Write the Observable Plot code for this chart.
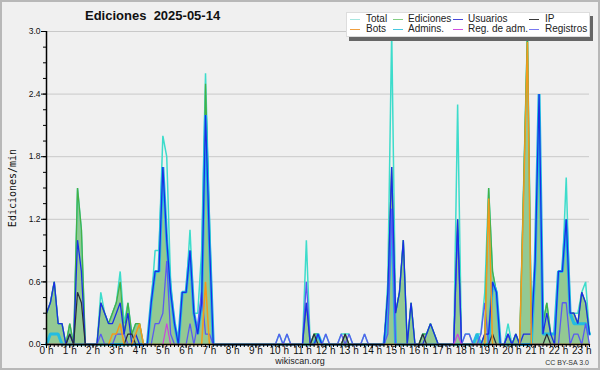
<!DOCTYPE html>
<html><head><meta charset="utf-8">
<script src="https://cdn.jsdelivr.net/npm/d3@7"></script>
<script src="https://cdn.jsdelivr.net/npm/@observablehq/plot@0.6"></script>
<style>
body{margin:0;background:#f0f0f0;}
#wrap{position:relative;width:600px;height:370px;overflow:hidden;background:#f0f0f0;font-family:"Liberation Sans",Arial,sans-serif;color:#111;}
#wrap svg{position:absolute;left:0;top:0;}
.ov{position:absolute;white-space:nowrap;}
#border{position:absolute;left:0;top:0;width:600px;height:370px;box-sizing:border-box;border:2px solid #b8b8b8;pointer-events:none;}
#legend{position:absolute;left:346px;top:12px;width:244px;height:25px;background:#fff;box-shadow:3px 4px 0 #666;border:1px solid #ddd;box-sizing:border-box;}
.lg-line{position:absolute;height:0;border-top:1px solid;width:10px;}
.lg-text{position:absolute;font-size:10px;line-height:10px;color:#222;}
</style></head><body>
<div id="wrap"></div>
<script>
// 10-minute intervals, 0:00 .. 23:20 (index 0..140), edits per minute
const total = [
0.3,0.4,0.6,0.2,0.2,0,0.2,0,1.5,1.1,
0,0,0,0,0.5,0.3,0.2,0.3,0.4,0.7,
0.2,0.4,0.1,0.2,0.2,0,0,0.4,0.9,0.9,
2.0,1.8,0.6,0.2,0,0.5,0.5,1.1,0.3,0.3,
0.9,2.6,1.2,0,0,0,0,0,0,0,
0,0,0,0,0,0,0,0,0,0,
0.1,0,0.1,0,0,0,0,1.0,0,0.1,
0.1,0,0.1,0,0,0,0.1,0.1,0.1,0,
0,0,0.1,0,0,0,0,0,0.6,3.0,
0.3,0.5,1.0,0,0.4,0,0,0.1,0.1,0.2,
0.1,0,0,0,0,0,2.3,0,0.1,0.1,
0,0.1,0.1,0.5,1.5,0.7,0.5,0,0,0.2,
0,0.1,0,1.5,3.0,0.2,0.8,2.4,0.2,0.4,
0.1,0.1,0.7,0.7,1.6,0.3,0.3,0.3,0.5,0.6,0.1];
const ediciones = [
0.3,0.4,0.6,0.2,0.2,0,0.2,0,1.5,1.1,
0,0,0,0,0.4,0.3,0.2,0.3,0.4,0.6,
0.1,0.4,0.1,0.2,0.2,0,0,0.4,0.7,0.7,
1.7,1.0,0.5,0.2,0,0.5,0.5,0.9,0.3,0.1,
0.4,2.5,1.1,0,0,0,0,0,0,0,
0,0,0,0,0,0,0,0,0,0,
0,0,0,0,0,0,0,0.4,0,0.1,
0.1,0,0,0,0,0,0,0.1,0,0,
0,0,0,0,0,0,0,0,0.5,1.7,
0.3,0.5,1.0,0,0.4,0,0,0.1,0.1,0.2,
0.1,0,0,0,0,0,1.2,0,0,0,
0,0.1,0,0.1,1.5,0.7,0.5,0,0,0.1,
0,0.1,0,1.5,3.0,0.2,0.8,2.4,0.2,0.4,
0.1,0.1,0.7,0.7,1.2,0.3,0.3,0.2,0.5,0.4,0.1];
const usuarios = [
0.3,0.4,0.6,0.2,0.2,0,0.1,0,1.0,0.7,
0,0,0,0,0.4,0.3,0.2,0.2,0.3,0.4,
0.1,0.3,0,0.1,0,0,0,0.4,0.7,0.7,
1.7,1.0,0.5,0.2,0,0.5,0.5,0.9,0.3,0.1,
0.4,2.2,1.0,0,0,0,0,0,0,0,
0,0,0,0,0,0,0,0,0,0,
0,0,0,0,0,0,0,0.4,0,0,
0.1,0,0,0,0,0,0,0,0,0,
0,0,0,0,0,0,0,0,0.5,1.7,
0.3,0.5,1.0,0,0.4,0,0,0,0.1,0.2,
0.1,0,0,0,0,0,1.2,0,0,0,
0,0,0,0.1,0.1,0.6,0.5,0,0,0.1,
0,0.1,0,0.1,0.1,0.1,0.8,2.4,0.1,0.3,
0.1,0,0.7,0.7,1.2,0.3,0.3,0.2,0.5,0.4,0.1];
const ip = [
0,0,0,0,0,0,0.1,0,0.5,0.4,
0,0,0,0,0,0,0,0,0,0,
0,0.1,0.1,0,0,0,0,0,0,0,
0,0,0,0,0,0,0,0,0,0,
0,0,0,0,0,0,0,0,0,0,
0,0,0,0,0,0,0,0,0,0,
0,0,0,0,0,0,0,0,0,0.1,
0,0,0,0,0,0,0,0.1,0,0,
0,0,0,0,0,0,0,0,0,0,
0,0,0,0,0,0,0,0.1,0,0,
0,0,0,0,0,0,0,0,0,0,
0,0,0,0,0,0.1,0,0,0,0,
0,0,0,0,0,0,0,0,0,0.1,
0,0,0,0,0,0,0,0,0,0,0];
const bots = [
0,0,0,0,0,0,0,0,0,0,
0,0,0,0,0,0,0,0.1,0.1,0.2,
0,0,0,0.1,0.2,0,0,0,0,0,
0,0,0,0,0,0,0,0,0,0,
0,0.6,0,0,0,0,0,0,0,0,
0,0,0,0,0,0,0,0,0,0,
0,0,0,0,0,0,0,0,0,0,
0,0,0,0,0,0,0,0,0,0,
0,0,0,0,0,0,0,0,0,0,
0,0,0,0,0,0,0,0,0,0,
0,0,0,0,0,0,0,0,0,0,
0,0,0,0,1.4,0,0,0,0,0,
0,0,0,1.4,2.9,0,0,0,0,0,
0,0,0,0,0,0,0,0,0,0,0];
const admins = [
0,0.1,0.1,0.1,0,0,0,0,0,0,
0,0,0,0,0,0,0,0,0,0,
0,0,0,0,0,0,0,0.4,0.7,0.7,
1.7,1.0,0.5,0.2,0,0.5,0.5,0.9,0.3,0.1,
0.4,2.2,1.0,0,0,0,0,0,0,0,
0,0,0,0,0,0,0,0,0,0,
0,0,0,0,0,0,0,0,0,0,
0.1,0,0,0,0,0,0,0,0,0,
0,0,0,0,0,0,0,0,0.3,1.3,
0,0,0,0,0,0,0,0,0,0,
0,0,0,0,0,0,0,0,0,0,
0,0.1,0,0,0,0.6,0.5,0,0,0,
0,0,0,0,0,0,0.8,2.4,0.1,0.1,
0.1,0.1,0.7,0.7,1.2,0.3,0.2,0.2,0.2,0.2,0.1];
const regAdm = [
0,0,0,0,0,0,0,0,0,0,
0,0,0,0,0,0,0,0,0,0,
0,0,0,0,0,0,0,0,0,0,
0,0.2,0,0,0,0,0,0,0,0,
0,0,0,0,0,0,0,0,0,0,
0,0,0,0,0,0,0,0,0,0,
0,0,0,0,0,0,0,0,0,0,
0,0,0,0,0,0,0,0,0,0,
0,0,0,0,0,0,0,0,0,0,
0,0,0,0,0,0,0,0,0,0,
0,0,0,0,0,0,0.1,0,0,0,
0,0,0,0,0,0,0,0,0,0,
0,0,0,0,0,0,0,0,0,0,
0,0,0,0,0,0,0,0,0,0,0];
const registros = [
0,0,0,0,0,0,0,0,0,0,
0,0,0,0,0.1,0,0,0,0.1,0.1,
0.1,0,0,0,0,0,0,0,0.2,0.2,
0.3,0.8,0.1,0,0,0,0,0.2,0,0.2,
0.5,0.1,0.1,0,0,0,0,0,0,0,
0,0,0,0,0,0,0,0,0,0,
0.1,0,0.1,0,0,0,0,0.6,0,0,
0,0,0.1,0,0,0,0.1,0,0.1,0,
0,0,0.1,0,0,0,0,0,0.1,1.3,
0,0,0,0,0,0,0,0,0,0,
0,0,0,0,0,0,1.1,0,0.1,0.1,
0,0,0.1,0.4,0,0,0,0,0,0.1,
0,0,0,0,0,0,0,0,0,0,
0,0,0,0.4,0.4,0,0.1,0.1,0,0.2,0];

const hourLabels = ["0 h","1 h","2 h","3 h","4 h","5 h","6 h","7 h","8 h","9 h","10 h","11 h","12 h","13 h","14 h","15 h","16 h","17 h","18 h","19 h","20 h","21 h","22 h","23 h"];
const yTicks = [0,0.6,1.2,1.8,2.4,3.0];
const legendLabels = ["Total","Ediciones","Usuarios","IP","Bots","Admins.","Reg. de adm.","Registros"];
const titleText = "Ediciones  2025-05-14";
const yLabel = "Ediciones/min";

const colors = {total:"#3ddccb", ediciones:"#46b046", usuarios:"#1a2ee6", ip:"#2a2a3a", bots:"#f39a1c", admins:"#22bce2", regAdm:"#cc44dd", registros:"#5a5af0"};
const legendColors = ["#a6e6e0","#84cf84","#4848d8","#3a3a3a","#f0a040","#48c8e0","#d050e0","#7878f0"];

const rows = total.map((t, i) => ({i, total:t, ediciones:ediciones[i], usuarios:usuarios[i], ip:ip[i], bots:bots[i], admins:admins[i], regAdm:regAdm[i], registros:registros[i]}));
const n = rows.length - 1;

const line = (key, w) => Plot.lineY(rows, {x:"i", y:key, stroke:colors[key], strokeWidth:w, strokeLinejoin:"miter"});

const chart = Plot.plot({
  width: 600, height: 370,
  marginLeft: 46, marginRight: 11, marginTop: 31, marginBottom: 26,
  x: {domain:[0, n], label: null},
  y: {domain:[0, 3], label: null},
  style: {background:"transparent", fontFamily:"Liberation Sans, Arial, sans-serif", color:"#111"},
  marks: [
    Plot.gridY(yTicks.slice(1), {stroke:"#c9c9c9", strokeOpacity:1}),
    Plot.areaY(rows, {x:"i", y:"ediciones", fill:"#93c993", fillOpacity:1}),
    line("total", 1.5),
    line("ediciones", 1.3),
    line("admins", 3),
    line("registros", 1.3),
    line("usuarios", 1.3),
    line("ip", 1.2),
    line("bots", 1.5),
    line("regAdm", 1.2),
    Plot.axisX({ticks: d3.range(0, n + 1, 1), tickSize: 3, text: null, label: null, stroke:"#000"}),
    Plot.axisX({ticks: d3.range(0, n + 1, 6), tickSize: 4, tickPadding: -2, tickFormat: d => hourLabels[d / 6], fontSize: 10, label: null, stroke:"#000"}),
    Plot.axisY({ticks: d3.range(0, 3.0001, 0.15), tickSize: 3, text: null, label: null, stroke:"#000"}),
    Plot.axisY({ticks: yTicks, tickSize: 5, tickPadding: 1, tickFormat: d3.format(".1f"), fontSize: 8.5, label: null, stroke:"#000"}),
    Plot.ruleX([0], {stroke:"#000", strokeWidth:1.5}),
    Plot.ruleY([0], {stroke:"#000", strokeWidth:1.5})
  ]
});

const wrap = document.getElementById("wrap");
wrap.appendChild(chart);

function addDiv(text, css){ const d = document.createElement("div"); d.className = "ov"; d.textContent = text; d.style.cssText += css; wrap.appendChild(d); return d; }
addDiv(titleText, "left:85px;top:8px;font-size:13px;line-height:16px;font-weight:bold;white-space:pre;");
addDiv(yLabel, "left:12px;top:188px;font-family:'DejaVu Sans Mono',monospace;font-size:10px;transform:translate(-50%,-50%) rotate(-90deg);");
addDiv("wikiscan.org", "left:0;width:600px;text-align:center;top:356px;font-size:9px;line-height:10px;color:#222;");
addDiv("CC BY-SA 3.0", "right:11px;top:359px;font-size:7px;line-height:8px;color:#333;");

const leg = document.createElement("div"); leg.id = "legend"; wrap.appendChild(leg);
const colLine = [3, 46, 106, 182], colText = [19, 61, 121, 198], rowY = [7, 17];
legendLabels.forEach((lab, k) => {
  const c = k % 4, r = Math.floor(k / 4);
  const l = document.createElement("div"); l.className = "lg-line"; l.style.left = colLine[c] + "px"; l.style.top = rowY[r] - 1 + "px"; l.style.borderTopColor = legendColors[k]; leg.appendChild(l);
  const t = document.createElement("div"); t.className = "lg-text"; t.style.left = colText[c] + "px"; t.style.top = rowY[r] - 6 + "px"; t.textContent = lab; leg.appendChild(t);
});
const b = document.createElement("div"); b.id = "border"; wrap.appendChild(b);
</script></body></html>
